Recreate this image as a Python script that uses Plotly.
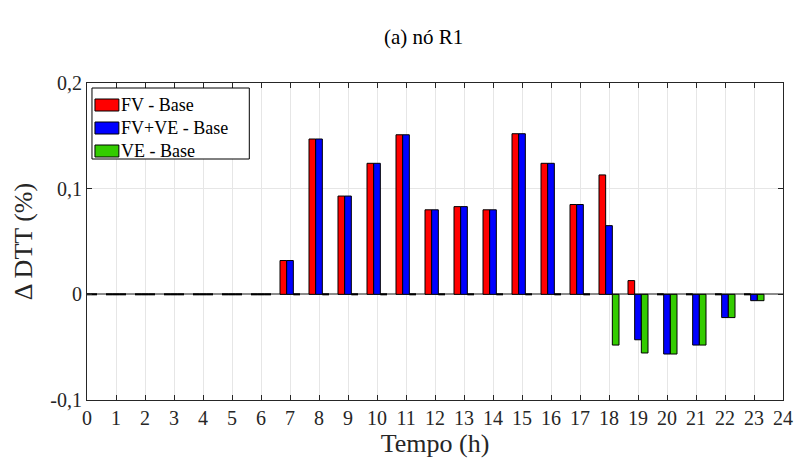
import plotly.graph_objects as go

# Hourly change in DTT (%) relative to the base case, node R1
hours = list(range(24))
fv_base = [0, 0, 0, 0, 0, 0, 0, 0.032, 0.147, 0.093, 0.124, 0.151, 0.080, 0.083,
           0.080, 0.152, 0.124, 0.085, 0.113, 0.013, 0, 0, 0, 0]
fvve_base = [0, 0, 0, 0, 0, 0, 0, 0.032, 0.147, 0.093, 0.124, 0.151, 0.080, 0.083,
             0.080, 0.152, 0.124, 0.085, 0.065, -0.043, -0.0565, -0.048, -0.022, -0.006]
ve_base = [0, 0, 0, 0, 0, 0, 0, 0, 0, 0, 0, 0, 0, 0,
           0, 0, 0, 0, -0.048, -0.0555, -0.0565, -0.048, -0.022, -0.006]

series_names = ["FV - Base", "FV+VE - Base", "VE - Base"]
series_vals = [fv_base, fvve_base, ve_base]
series_cols = ["#ff0000", "#0000ff", "#33cc00"]

y_ticks = [-0.1, 0, 0.1, 0.2]
y_labels = ["-0,1", "0", "0,1", "0,2"]
x_ticks = list(range(25))

serif = "Liberation Serif"
axis_col = "#262626"
bargap = 0.31
n = len(series_names)
bar_w = (1 - bargap) / n

W, H = 805, 467
ML, MR, MT, MB = 87, 19, 83, 67
PW, PH = W - ML - MR, H - MT - MB

fig = go.Figure()
for name, vals, col in zip(series_names, series_vals, series_cols):
    fig.add_trace(go.Bar(
        x=hours, y=vals, name=name, showlegend=False,
        marker=dict(color=col, line=dict(color="black", width=1)),
    ))

# zero-height bars still show their black edge on the baseline
seg_x, seg_y = [], []
for i, vals in enumerate(series_vals):
    off = (i - (n - 1) / 2) * bar_w
    for h, v in zip(hours, vals):
        if v == 0:
            seg_x += [h + off - bar_w / 2, h + off + bar_w / 2, None]
            seg_y += [0, 0, None]
fig.add_trace(go.Scatter(x=seg_x, y=seg_y, mode="lines",
                         line=dict(color="black", width=2),
                         showlegend=False, hoverinfo="skip"))

# legend box drawn in paper pixels (top-left of the axes)
def px(x):
    return (x - ML) / PW

def py(y):
    return (H - MB - y) / PH

shapes = [dict(type="rect", xref="paper", yref="paper",
               x0=px(92), x1=px(250), y0=py(159), y1=py(88),
               line=dict(color="black", width=1), fillcolor="white", layer="above")]
for i, col in enumerate(series_cols):
    cy = 105 + i * 23
    shapes.append(dict(type="rect", xref="paper", yref="paper",
                       x0=px(95), x1=px(119), y0=py(cy + 6), y1=py(cy - 6),
                       line=dict(color="black", width=1), fillcolor=col, layer="above"))

fig.update_layout(
    width=W, height=H,
    margin=dict(l=ML, r=MR, t=MT, b=MB),
    paper_bgcolor="white", plot_bgcolor="white",
    barmode="group", bargap=bargap, bargroupgap=0,
    shapes=shapes,
    showlegend=False,
)
for i, name in enumerate(series_names):
    fig.add_annotation(xref="paper", yref="paper", x=px(119), y=py(105 + i * 23),
                       xanchor="left", yanchor="middle", showarrow=False,
                       text=name, font=dict(family=serif, size=18, color="black"))
fig.add_annotation(xref="paper", yref="paper", x=px(425), y=py(37),
                   xanchor="center", yanchor="middle", showarrow=False,
                   text="(a) nó R1", font=dict(family=serif, size=21, color="black"))

fig.update_xaxes(
    range=[0, 24], tickvals=x_ticks, ticktext=[str(t) for t in x_ticks],
    showgrid=True, gridcolor="#e6e6e6", gridwidth=1,
    showline=True, linecolor=axis_col, linewidth=1, mirror="ticks",
    ticks="inside", ticklen=5, tickcolor=axis_col,
    tickfont=dict(family=serif, size=20, color=axis_col),
    title=dict(text="Tempo (h)", font=dict(family=serif, size=26, color=axis_col), standoff=4),
    zeroline=False,
)
fig.update_yaxes(
    range=[-0.1, 0.2], tickvals=y_ticks, ticktext=y_labels,
    showgrid=True, gridcolor="#e6e6e6", gridwidth=1,
    showline=True, linecolor=axis_col, linewidth=1, mirror="ticks",
    ticks="inside", ticklen=5, tickcolor=axis_col,
    tickfont=dict(family=serif, size=20, color=axis_col),
    title=dict(text="Δ DTT (%)", font=dict(family=serif, size=26, color=axis_col), standoff=10),
    zeroline=True, zerolinecolor="#8c8c8c", zerolinewidth=2,
)

fig.write_html("out.html")
